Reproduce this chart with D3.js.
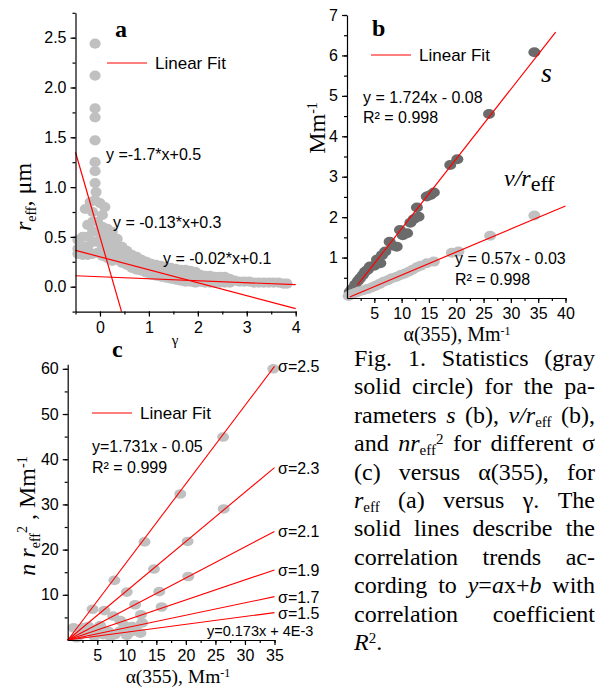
<!DOCTYPE html>
<html>
<head>
<meta charset="utf-8">
<script src="https://cdn.jsdelivr.net/npm/d3@7"></script>
<style>
body { margin: 0; background: #fff; }
svg { display: block; }
</style>
</head>
<body>
<div id="chart"></div>
<script>
// panel a: r_eff versus gamma
var gammaA = [-0.1, -0.1, -0.1, -0.1, -0.1, -0.1, -0.1, -0.1, -0.08,
  -0.2, -0.1, 0.0, 0.1, -0.3, -0.15, 0.05,
  -0.45, -0.45, -0.45, -0.35, -0.35, -0.35, -0.25, -0.25, -0.25, -0.25,
  -0.15, -0.15, -0.15, -0.15, -0.05, -0.05, -0.05, -0.05, 0.05, 0.05, 0.05, 0.05,
  0.15, 0.15, 0.15, 0.15, 0.25, 0.25, 0.25, 0.25, 0.35, 0.35, 0.35,
  0.45, 0.45, 0.45, 0.55, 0.55, 0.55, 0.65, 0.65, 0.65, 0.75, 0.75, 0.75,
  0.85, 0.85, 0.85, 0.95, 0.95, 0.95, 1.05, 1.05, 1.05, 1.15, 1.15, 1.15,
  1.25, 1.25, 1.25, 1.35, 1.35, 1.35, 1.45, 1.45, 1.45, 1.55, 1.55, 1.55,
  1.65, 1.65, 1.65, 1.75, 1.75, 1.75, 1.85, 1.85, 1.85, 1.95, 1.95, 1.95,
  2.05, 2.05, 2.15, 2.15, 2.25, 2.25, 2.35, 2.35, 2.45, 2.45, 2.55, 2.55,
  2.65, 2.65, 2.75, 2.85, 2.95, 3.05, 3.15, 3.25, 3.35, 3.45, 3.55, 3.65, 3.75, 3.82];
var reffA = [2.44, 2.12, 1.79, 1.70, 1.47, 1.25, 1.16, 1.04, 0.95,
  0.85, 0.87, 0.84, 0.80, 0.78, 0.75, 0.72,
  0.47, 0.38, 0.33, 0.50, 0.40, 0.32, 0.62, 0.50, 0.40, 0.32,
  0.65, 0.55, 0.45, 0.33, 0.65, 0.55, 0.45, 0.34, 0.60, 0.50, 0.40, 0.31,
  0.58, 0.48, 0.38, 0.29, 0.55, 0.45, 0.35, 0.26, 0.48, 0.38, 0.27,
  0.40, 0.32, 0.24, 0.36, 0.28, 0.22, 0.32, 0.25, 0.19, 0.30, 0.23, 0.17,
  0.27, 0.21, 0.16, 0.25, 0.19, 0.14, 0.23, 0.17, 0.12, 0.22, 0.16, 0.11,
  0.21, 0.15, 0.10, 0.20, 0.14, 0.09, 0.19, 0.13, 0.08, 0.18, 0.12, 0.07,
  0.17, 0.11, 0.06, 0.17, 0.10, 0.05, 0.16, 0.10, 0.05, 0.15, 0.09, 0.04,
  0.12, 0.05, 0.11, 0.04, 0.11, 0.04, 0.10, 0.04, 0.10, 0.04, 0.10, 0.04,
  0.08, 0.04, 0.06, 0.05, 0.05, 0.05, 0.04, 0.04, 0.04, 0.04, 0.04, 0.04, 0.03, 0.03];
var fitSlopeA = [-1.7, -0.13, -0.02];
var fitIntA = [0.5, 0.3, 0.1];
var fitLabelA = ["y =-1.7*x+0.5", "y = -0.13*x+0.3", "y = -0.02*x+0.1"];
var yTicksA = [0, 0.5, 1, 1.5, 2, 2.5];
var xTicksA = [0, 1, 2, 3, 4];

// panel b: s and v/r_eff versus alpha(355)
var alphaS = [0.5, 0.9, 1.5, 2.0, 2.4, 2.9, 3.3, 3.8, 4.2, 5.0, 5.5, 6.1, 6.4, 7.0, 7.8, 8.3,
  9.1, 9.7, 10.2, 11.0, 11.6, 12.2, 12.8, 13.1, 14.6, 15.3, 15.9, 18.9, 20.2, 26.0, 34.3];
var sVal = [0.15, 0.22, 0.33, 0.42, 0.49, 0.57, 0.65, 0.70, 0.78, 0.80, 0.95, 0.86, 1.06, 1.15, 1.39, 1.30,
  1.27, 1.68, 1.55, 1.60, 1.86, 1.95, 2.24, 2.01, 2.51, 2.55, 2.61, 3.29, 3.43, 4.55, 6.08];
var alphaV = [0.3, 1.0, 1.6, 2.2, 3.0, 3.7, 4.5, 5.2, 6.0, 6.7, 7.5, 8.2, 9.0, 9.8, 10.5, 11.3,
  12.0, 12.8, 13.5, 14.6, 15.9, 19.2, 20.4, 26.2, 34.3];
var vVal = [0.05, 0.10, 0.13, 0.16, 0.19, 0.22, 0.26, 0.30, 0.35, 0.40, 0.44, 0.49, 0.52, 0.57, 0.60, 0.65,
  0.70, 0.76, 0.80, 0.86, 0.90, 1.12, 1.15, 1.54, 2.04];
var fitB = { s: [0.1724, -0.008, 1.9, 38.2], v: [0.057, -0.003, 0.5, 40] };
var yTicksB = [1, 2, 3, 4, 5, 6, 7];
var xTicksB = [5, 10, 15, 20, 25, 30, 35, 40];

// panel c: n r_eff^2 versus alpha(355) for different sigma
var alphaC = [34.8, 26.3, 26.4, 19.05, 20.3, 20.4, 13.0, 14.6, 15.5, 15.9, 7.9, 10.0, 11.4, 12.4, 12.6,
  4.2, 6.2, 7.7, 8.9, 9.6, 10.9, 1.0, 2.6, 3.5, 4.9, 6.9, 8.9, 10.9, 12.3, 2.1, 4.5, 7.2, 10.0,
  11.5, 5.5, 1.5, 3.0, 6.0, 8.0];
var nrC = [60, 44.9, 29, 32.3, 21.8, 14.05, 21.7, 15.7, 10.7, 7.3, 13.2, 10.6, 7.8, 5.6, 3.8,
  6.8, 6.5, 5.3, 4.3, 3.2, 3.0, 2.7, 2.7, 3.0, 2.2, 1.9, 2.0, 1.9, 1.5, 1.1, 0.8, 0.8, 1.0,
  2.5, 3.2, 0.5, 1.8, 1.2, 1.2];
var sigmaC = ["2.5", "2.3", "2.1", "1.9", "1.7", "1.5"];
var slopeC = [1.731, 1.09, 0.686, 0.443, 0.274, 0.173];
var intC = [-0.05, 0, 0, 0, 0, 0.004];
var yTicksC = [10, 20, 30, 40, 50, 60];
var xTicksC = [5, 10, 15, 20, 25, 30, 35];

var SANS = "'Liberation Sans', Arial, sans-serif";
var SERIF = "'Liberation Serif', 'Times New Roman', serif";
var RED = "#ff0000";
var LIGHT = "#c0c0c0";
var DARK = "#6b6b6b";

var svg = d3.select("#chart").append("svg")
  .attr("width", 597)
  .attr("height", 687);

function range(a, b, step) {
  return d3.range(a, b + step / 2, step);
}

function axes(x, y, xMajor, xMinor, yMajor, yMinor, xFmt, yFmt) {
  var x0 = x.range()[0], y0 = y.range()[0];
  var gy = svg.append("g").attr("transform", "translate(" + x0 + ",0)");
  gy.call(d3.axisLeft(y).tickValues(yMinor).tickSize(3).tickFormat(""));
  gy.select(".domain").remove();
  var gy2 = svg.append("g").attr("transform", "translate(" + x0 + ",0)")
    .call(d3.axisLeft(y).tickValues(yMajor).tickSize(5).tickSizeOuter(0).tickPadding(4).tickFormat(yFmt));
  var gx = svg.append("g").attr("transform", "translate(0," + y0 + ")");
  gx.call(d3.axisBottom(x).tickValues(xMinor).tickSize(3).tickFormat(""));
  gx.select(".domain").remove();
  var gx2 = svg.append("g").attr("transform", "translate(0," + y0 + ")")
    .call(d3.axisBottom(x).tickValues(xMajor).tickSize(5).tickSizeOuter(0).tickPadding(5).tickFormat(xFmt));
  [gy2, gx2].forEach(function(g) {
    g.attr("font-family", SANS).attr("font-size", 16);
    g.selectAll("text").attr("fill", "#000");
  });
  svg.selectAll(".tick line, .domain").attr("stroke", "#000").attr("stroke-width", 1.2);
}

function dots(data, x, y, color, rx, ry) {
  svg.append("g").selectAll("ellipse")
    .data(data)
    .enter()
    .append("ellipse")
    .attr("cx", function(d) { return x(d[0]); })
    .attr("cy", function(d) { return y(d[1]); })
    .attr("rx", rx)
    .attr("ry", ry)
    .attr("fill", color);
}

function fitLine(x, y, a, b, x1, x2, w) {
  svg.append("line")
    .attr("x1", x(x1)).attr("y1", y(a * x1 + b))
    .attr("x2", x(x2)).attr("y2", y(a * x2 + b))
    .attr("stroke", RED).attr("stroke-width", w || 1.2);
}

function label(x, y, txt, size, fam, extra) {
  var t = svg.append("text").attr("x", x).attr("y", y)
    .attr("font-family", fam || SANS).attr("font-size", size).text(txt);
  if (extra) extra(t);
  return t;
}

function legend(x, y) {
  svg.append("line").attr("x1", x).attr("x2", x + 40).attr("y1", y).attr("y2", y)
    .attr("stroke", RED).attr("stroke-width", 1.2);
  label(x + 48, y + 6, "Linear Fit", 17);
}

// rich text: segments [text, style]; style has i (italic), sub, sup
function rich(t, segs, subSize, up, down) {
  var shift = 0;
  segs.forEach(function(s) {
    var st = s[1] || "";
    var sp = t.append("tspan").text(s[0]);
    if (st.indexOf("i") >= 0) sp.attr("font-style", "italic");
    var target = st.indexOf("sub") >= 0 ? (down || 5) : (st.indexOf("sup") >= 0 ? -(up || 8) : 0);
    if (target !== shift) sp.attr("dy", target - shift);
    shift = target;
    if (target !== 0) sp.attr("font-size", subSize);
  });
  return t;
}

// ---------- panel a ----------
var xA = d3.scaleLinear().domain([-0.5, 4]).range([75.5, 295.7]);
var yA = d3.scaleLinear().domain([-0.25, 2.75]).range([311.6, 12.8]);
dots(d3.zip(gammaA, reffA), xA, yA, LIGHT, 5.6, 5.1);
fitLine(xA, yA, fitSlopeA[0], fitIntA[0], -0.5, (-0.25 - fitIntA[0]) / fitSlopeA[0]);
fitLine(xA, yA, fitSlopeA[1], fitIntA[1], -0.5, 4);
fitLine(xA, yA, fitSlopeA[2], fitIntA[2], -0.5, 4);
axes(xA, yA, xTicksA, range(-0.5, 4, 0.5), yTicksA, range(-0.25, 2.75, 0.25),
  d3.format("d"), d3.format(".1f"));
label(115, 37, "a", 24, SERIF, function(t) { t.attr("font-weight", "bold"); });
legend(107, 63);
label(106, 160, fitLabelA[0], 16);
label(113, 228, fitLabelA[1], 16);
label(163, 264, fitLabelA[2], 16);
label(175, 345, "\u03b3", 15, SERIF, function(t) { t.attr("text-anchor", "middle"); });
rich(svg.append("text").attr("transform", "translate(31,197) rotate(-90)")
  .attr("text-anchor", "middle").attr("font-family", SERIF).attr("font-size", 24),
  [["r", "i"], ["eff", "sub"], [", \u03bcm", ""]], 14);

// ---------- panel b ----------
var xB = d3.scaleLinear().domain([0, 40]).range([347, 565.5]);
var yB = d3.scaleLinear().domain([0, 7]).range([298, 15]);
dots(d3.zip(alphaS, sVal), xB, yB, DARK, 6, 5);
dots(d3.zip(alphaV, vVal), xB, yB, LIGHT, 6, 5);
fitLine(xB, yB, fitB.s[0], fitB.s[1], fitB.s[2], fitB.s[3]);
fitLine(xB, yB, fitB.v[0], fitB.v[1], fitB.v[2], fitB.v[3]);
axes(xB, yB, xTicksB, range(2.5, 40, 2.5), yTicksB, range(0.5, 7, 0.5),
  d3.format("d"), d3.format("d"));
label(372, 36, "b", 24, SERIF, function(t) { t.attr("font-weight", "bold"); });
legend(371, 55);
label(363, 103, "y = 1.724x - 0.08", 16);
label(363, 123, "R\u00b2 = 0.998", 16);
label(455, 264, "y = 0.57x - 0.03", 16);
label(455, 285, "R\u00b2 = 0.998", 16);
label(541, 82, "s", 28, SERIF, function(t) { t.attr("font-style", "italic"); });
rich(label(504, 186, "", 24, SERIF), [["v/r", "i"], ["eff", "sub"]], 22);
rich(svg.append("text").attr("transform", "translate(325,128) rotate(-90)")
  .attr("text-anchor", "middle").attr("font-family", SERIF).attr("font-size", 24),
  [["Mm", ""], ["-1", "sup"]], 14);
rich(label(457, 341, "", 20, SERIF, function(t) { t.attr("text-anchor", "middle"); }),
  [["\u03b1(355), Mm", ""], ["-1", "sup"]], 12, 6);

// ---------- panel c ----------
var xC = d3.scaleLinear().domain([0, 35]).range([67.7, 274.5]);
var yC = d3.scaleLinear().domain([0, 61]).range([640, 364.3]);
dots(d3.zip(alphaC, nrC), xC, yC, LIGHT, 6, 4.8);
slopeC.forEach(function(a, i) {
  fitLine(xC, yC, a, intC[i], 0, 35, 1.1);
  label(278, yC(a * 35 + intC[i]) + 6, "\u03c3=" + sigmaC[i], 16);
});
axes(xC, yC, xTicksC, range(2.5, 35, 2.5), yTicksC, range(5, 60, 5),
  d3.format("d"), d3.format("d"));
label(112, 357, "c", 24, SERIF, function(t) { t.attr("font-weight", "bold"); });
legend(92, 413);
label(92, 452, "y=1.731x - 0.05", 16);
label(92, 473, "R\u00b2 = 0.999", 16);
label(207, 636, "y=0.173x + 4E-3", 14.5);
rich(svg.append("text").attr("transform", "translate(35,516) rotate(-90)")
  .attr("text-anchor", "middle").attr("font-family", SERIF).attr("font-size", 24),
  [["n r", "i"], ["eff", "sub"], ["2", "sup"], [" , Mm", ""], ["-1", "sup"]], 14);
rich(label(178, 683, "", 19.5, SERIF, function(t) { t.attr("text-anchor", "middle"); }),
  [["\u03b1(355), Mm", ""], ["-1", "sup"]], 12, 6);

// ---------- caption ----------
var capLines = [
  [[["Fig."]], [["1."]], [["Statistics"]], [["(gray"]]],
  [[["solid"]], [["circle)"]], [["for"]], [["the"]], [["pa-"]]],
  [[["rameters"]], [["s", "i"]], [["(b),"]], [["v/r", "i"], ["eff", "sub"]], [["(b),"]]],
  [[["and"]], [["nr", "i"], ["eff", "sub"], ["2", "sup"]], [["for"]], [["different"]], [["\u03c3"]]],
  [[["(c)"]], [["versus"]], [["\u03b1(355),"]], [["for"]]],
  [[["r", "i"], ["eff", "sub"]], [["(a)"]], [["versus"]], [["\u03b3."]], [["The"]]],
  [[["solid"]], [["lines"]], [["describe"]], [["the"]]],
  [[["correlation"]], [["trends"]], [["ac-"]]],
  [[["cording"]], [["to"]], [["y", "i"], ["="], ["a", "i"], ["x+"], ["b", "i"]], [["with"]]],
  [[["correlation"]], [["coefficient"]]],
  [[["R", "i"], ["2", "sup"], ["."]]]
];
var capX = 354, capW = 241, capY = 366, capLH = 28.4;
var cap = svg.append("g").attr("font-family", SERIF).attr("font-size", 24);
capLines.forEach(function(words, li) {
  var y = capY + li * capLH;
  var texts = words.map(function(w) {
    return rich(cap.append("text").attr("x", 0).attr("y", y), w, 15, 7, 4);
  });
  var widths = texts.map(function(t) { return t.node().getComputedTextLength(); });
  var total = d3.sum(widths);
  var gap = (li < capLines.length - 1 && words.length > 1) ? Math.max(4, (capW - total) / (words.length - 1)) : 5.5;
  var x = capX;
  texts.forEach(function(t, i) {
    t.attr("x", x);
    x += widths[i] + gap;
  });
});
</script>
</body>
</html>
